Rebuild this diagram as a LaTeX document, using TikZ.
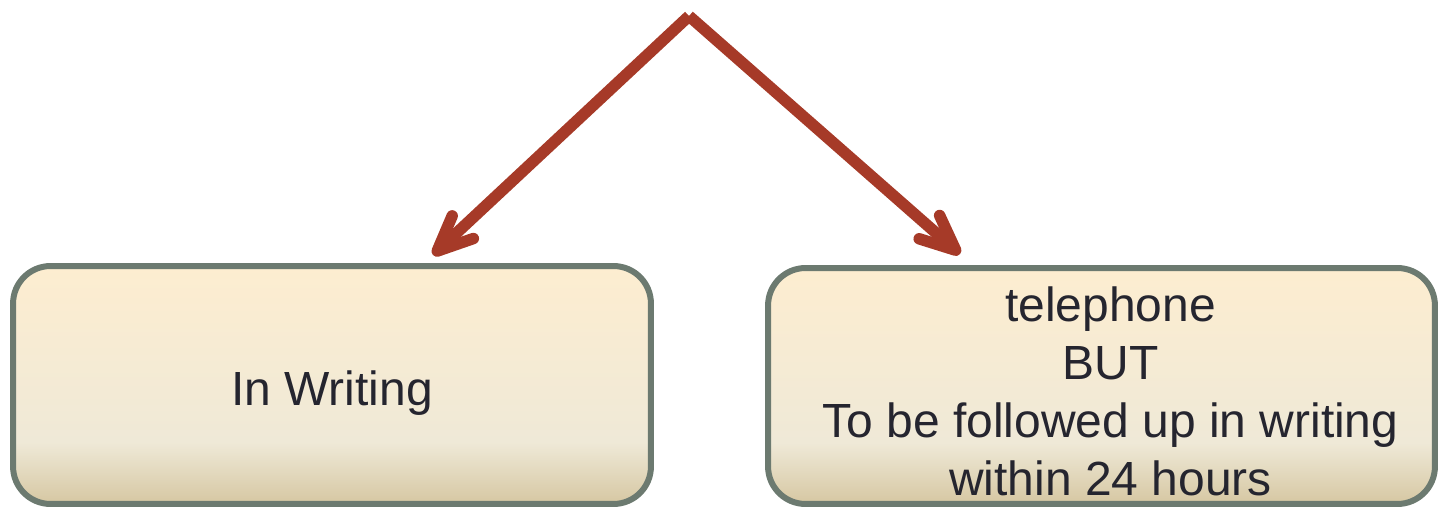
\documentclass[tikz,border=0pt]{standalone}
\usepackage{fontspec}
\setmainfont{Liberation Sans}
\usepackage{xcolor}
\usetikzlibrary{arrows.meta}

\definecolor{arrowred}{HTML}{A63A28}
\definecolor{boxline}{HTML}{6C7A70}
\definecolor{boxtop}{HTML}{FDEDD0}
\definecolor{boxmid}{HTML}{EFE9D7}
\definecolor{boxlow}{HTML}{E5DCC3}
\definecolor{boxbot}{HTML}{D6C7A2}
\definecolor{textdark}{HTML}{25252F}

\pgfdeclareverticalshading{boxshade}{100bp}{color(0bp)=(boxbot); color(25bp)=(boxbot);
  color(33bp)=(boxlow); color(38bp)=(boxmid); color(75bp)=(boxtop); color(100bp)=(boxtop)}

\tikzset{
  answer/.style={draw=boxline, line width=0.12cm, rounded corners=0.75cm,
    shading=boxshade, inner sep=0pt},
  answertext/.style={align=center, text=textdark, font=\fontsize{27.3}{33}\selectfont},
  choice/.style={draw=arrowred, line width=0.23cm, line cap=butt,
    -{Straight Barb[length=0.7cm, width=0.62cm, round]}}
}

\begin{document}
\begin{tikzpicture}[x=0.02cm, y=-0.02cm]
  \useasboundingbox (0,0) rectangle (1441,510);
  % boxes
  \node[answer, minimum width=12.76cm, minimum height=4.76cm] (lbox) at (332,385) {};
  \node[answer, minimum width=13.34cm, minimum height=4.72cm] (rbox) at (1101.5,386) {};
  \node[answertext] (ltxt) at ([yshift=-0.16cm]lbox.center) {In Writing};
  \node[answertext] (rtxt) at ([xshift=0.18cm, yshift=-0.1cm]rbox.center)
    {telephone\\BUT\\To be followed up in writing\\within 24 hours};
  % arrows
  \coordinate (apex) at (689,16);
  \draw[choice] (apex) -- ([xshift=2.02cm, yshift=0.16cm]lbox.north);
  \draw[choice] (apex) -- ([xshift=-2.83cm, yshift=0.22cm]rbox.north);
\end{tikzpicture}
\end{document}
